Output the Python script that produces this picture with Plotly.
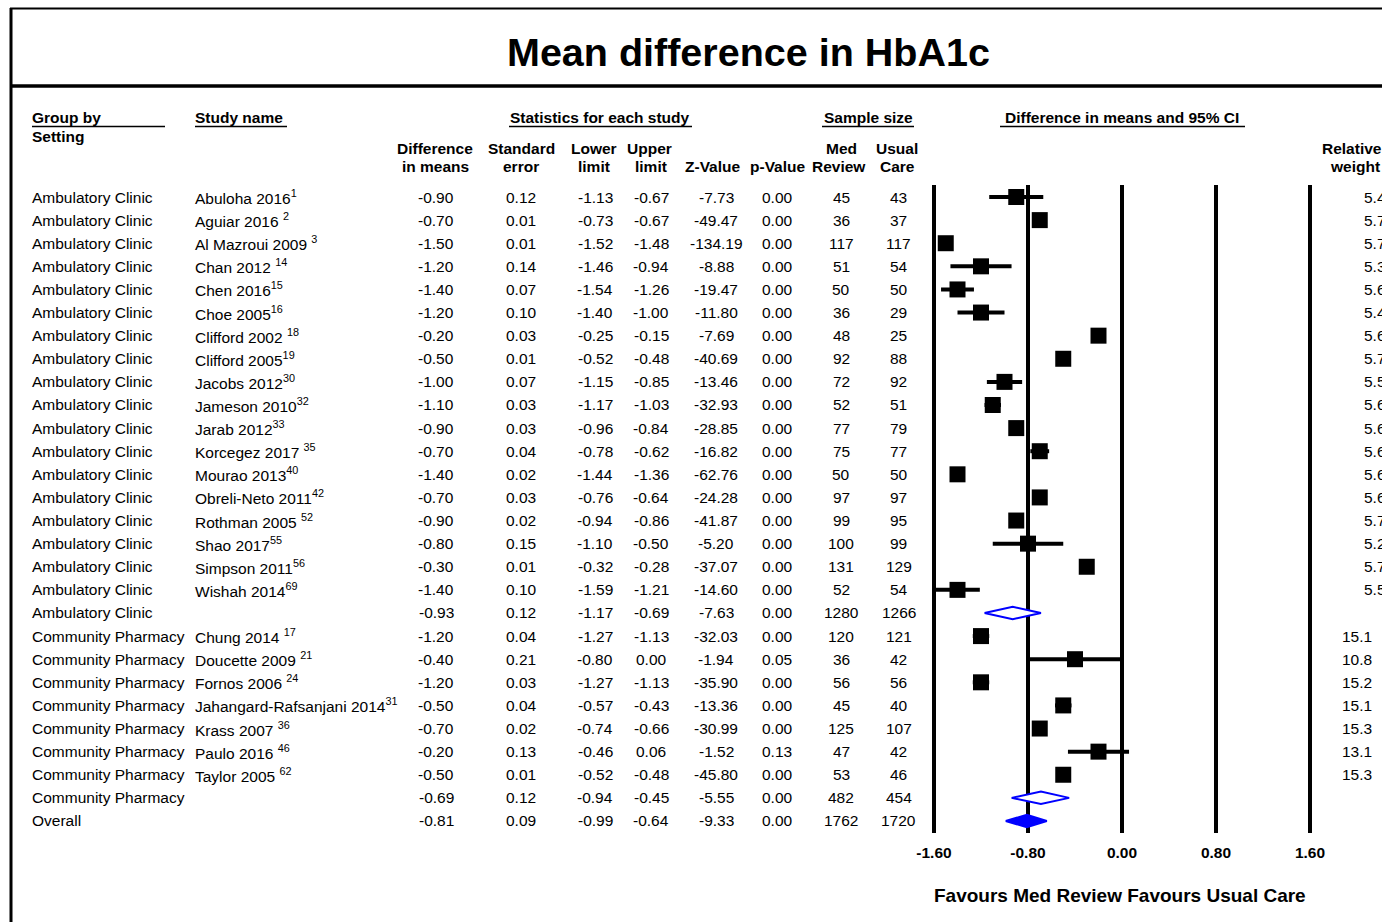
import plotly.graph_objects as go

W, H = 1382, 922
FONT = "Liberation Sans, Arial, sans-serif"
FS = 15.5

# ---------------- data ----------------
groups = ["Ambulatory Clinic"] * 19 + ["Community Pharmacy"] * 8 + ["Overall"]
studies = ["Abuloha 2016", "Aguiar 2016 ", "Al Mazroui 2009 ", "Chan 2012 ", "Chen 2016",
           "Choe 2005", "Clifford 2002 ", "Clifford 2005", "Jacobs 2012", "Jameson 2010",
           "Jarab 2012", "Korcegez 2017 ", "Mourao 2013", "Obreli-Neto 2011", "Rothman 2005 ",
           "Shao 2017", "Simpson 2011", "Wishah 2014", "",
           "Chung 2014 ", "Doucette 2009 ", "Fornos 2006 ", "Jahangard-Rafsanjani 2014",
           "Krass 2007 ", "Paulo 2016 ", "Taylor 2005 ", "", ""]
refs = ["1", "2", "3", "14", "15", "16", "18", "19", "30", "32", "33", "35", "40", "42", "52",
        "55", "56", "69", "", "17", "21", "24", "31", "36", "46", "62", "", ""]
row_type = ["study"] * 18 + ["subtotal"] + ["study"] * 7 + ["subtotal", "overall"]

diff = [-0.90, -0.70, -1.50, -1.20, -1.40, -1.20, -0.20, -0.50, -1.00, -1.10, -0.90, -0.70,
        -1.40, -0.70, -0.90, -0.80, -0.30, -1.40, -0.93,
        -1.20, -0.40, -1.20, -0.50, -0.70, -0.20, -0.50, -0.69, -0.81]
se = [0.12, 0.01, 0.01, 0.14, 0.07, 0.10, 0.03, 0.01, 0.07, 0.03, 0.03, 0.04, 0.02, 0.03,
      0.02, 0.15, 0.01, 0.10, 0.12,
      0.04, 0.21, 0.03, 0.04, 0.02, 0.13, 0.01, 0.12, 0.09]
lower = [-1.13, -0.73, -1.52, -1.46, -1.54, -1.40, -0.25, -0.52, -1.15, -1.17, -0.96, -0.78,
         -1.44, -0.76, -0.94, -1.10, -0.32, -1.59, -1.17,
         -1.27, -0.80, -1.27, -0.57, -0.74, -0.46, -0.52, -0.94, -0.99]
upper = [-0.67, -0.67, -1.48, -0.94, -1.26, -1.00, -0.15, -0.48, -0.85, -1.03, -0.84, -0.62,
         -1.36, -0.64, -0.86, -0.50, -0.28, -1.21, -0.69,
         -1.13, 0.00, -1.13, -0.43, -0.66, 0.06, -0.48, -0.45, -0.64]
zval = [-7.73, -49.47, -134.19, -8.88, -19.47, -11.80, -7.69, -40.69, -13.46, -32.93, -28.85,
        -16.82, -62.76, -24.28, -41.87, -5.20, -37.07, -14.60, -7.63,
        -32.03, -1.94, -35.90, -13.36, -30.99, -1.52, -45.80, -5.55, -9.33]
pval = [0.00] * 20 + [0.05, 0.00, 0.00, 0.00, 0.13, 0.00, 0.00, 0.00]
n_med = [45, 36, 117, 51, 50, 36, 48, 92, 72, 52, 77, 75, 50, 97, 99, 100, 131, 52, 1280,
         120, 36, 56, 45, 125, 47, 53, 482, 1762]
n_usual = [43, 37, 117, 54, 50, 29, 25, 88, 92, 51, 79, 77, 50, 97, 95, 99, 129, 54, 1266,
           121, 42, 56, 40, 107, 42, 46, 454, 1720]
weight = ["5.4", "5.7", "5.7", "5.3", "5.6", "5.4", "5.6", "5.7", "5.5", "5.6", "5.6", "5.6",
          "5.6", "5.6", "5.7", "5.2", "5.7", "5.5", "",
          "15.1", "10.8", "15.2", "15.1", "15.3", "13.1", "15.3", "", ""]
tick_vals = [-1.60, -0.80, 0.00, 0.80, 1.60]
tick_text = ["-1.60", "-0.80", "0.00", "0.80", "1.60"]

# ---------------- geometry helpers (pixel layout) ----------------
ROW0, ROWH = 197.0, 23.11
X0PIX, XSCALE = 1122.0, 117.5


def px(x):
    return x / W


def py(y):
    return 1 - y / H


yr = [(H - ROW0) / ROWH, -ROW0 / ROWH]
xr = [(0 - X0PIX) / XSCALE, (W - X0PIX) / XSCALE]

fig = go.Figure()

# study squares with CI
idx = [i for i, t in enumerate(row_type) if t == "study"]
fig.add_trace(go.Scatter(
    x=[diff[i] for i in idx], y=idx, mode="markers",
    marker=dict(symbol="square", size=16, color="black", line=dict(width=0)),
    error_x=dict(type="data", symmetric=False,
                 array=[upper[i] - diff[i] for i in idx],
                 arrayminus=[diff[i] - lower[i] for i in idx],
                 thickness=4, width=0, color="black"),
    hoverinfo="skip", showlegend=False))

# diamonds
hh = 0.27
for i, t in enumerate(row_type):
    if t == "study":
        continue
    xs = [lower[i], diff[i], upper[i], diff[i], lower[i]]
    ys = [i, i - hh, i, i + hh, i]
    fig.add_trace(go.Scatter(
        x=xs, y=ys, mode="lines", fill="toself",
        fillcolor="#0000FF" if t == "overall" else "white",
        line=dict(color="#0000FF", width=2),
        hoverinfo="skip", showlegend=False))

shapes = []
# vertical reference lines
for v in tick_vals:
    shapes.append(dict(type="line", xref="x", yref="y", x0=v, x1=v, y0=-0.52, y1=27.52,
                       line=dict(color="black", width=4), layer="below"))
# frame
shapes.append(dict(type="line", xref="paper", yref="paper", x0=px(10), x1=1, y0=py(8.5), y1=py(8.5),
                   line=dict(color="black", width=2)))
shapes.append(dict(type="line", xref="paper", yref="paper", x0=px(11), x1=px(11), y0=py(8), y1=0,
                   line=dict(color="black", width=3)))
# thick line under title
shapes.append(dict(type="line", xref="paper", yref="paper", x0=px(11), x1=1, y0=py(86), y1=py(86),
                   line=dict(color="black", width=3.5)))
# header underlines
for a, b in [(32, 165), (195, 287), (509, 692), (822, 914), (1000, 1245)]:
    shapes.append(dict(type="line", xref="paper", yref="paper", x0=px(a), x1=px(b),
                       y0=py(126.5), y1=py(126.5), line=dict(color="black", width=1.3)))

ann = []


def txt(x, y, s, size=FS, bold=False, anchor="center", yref="paper"):
    ann.append(dict(x=px(x), y=py(y) if yref == "paper" else y, xref="paper", yref=yref,
                    text=("<b>%s</b>" % s) if bold else s, showarrow=False, xanchor=anchor,
                    yanchor="middle", borderpad=0, borderwidth=0,
                    font=dict(family=FONT, size=size, color="black")))


# title
txt(749, 52, "Mean difference in HbA1c", size=39.5, bold=True)

# headers
txt(32, 118, "Group by", bold=True, anchor="left")
txt(32, 136, "Setting", bold=True, anchor="left")
txt(195, 118, "Study name", bold=True, anchor="left")
txt(600, 118, "Statistics for each study", bold=True)
txt(868, 118, "Sample size", bold=True)
txt(1122, 118, "Difference in means and 95% CI", bold=True)
col_x = [436, 521, 595, 651, 716, 777, 841, 899]
head1 = ["Difference", "Standard", "Lower", "Upper", "", "", "Med", "Usual"]
head2 = ["in means", "error", "limit", "limit", "Z-Value", "p-Value", "Review", "Care"]
hx1 = [435, 521, 594, 649, 716, 778, 841, 897]
hx2 = [435, 521, 594, 651, 713, 778, 839, 897]
for a, b, x1, x2 in zip(head1, head2, hx1, hx2):
    if a:
        txt(x1, 148, a, bold=True)
    txt(x2, 166, b, bold=True)
txt(1382, 148, "Relative", bold=True, anchor="right")
txt(1380, 166, "weight", bold=True, anchor="right")

# table rows
for i in range(len(groups)):
    txt(32, i, groups[i], anchor="left", yref="y")
    if studies[i]:
        s = studies[i] + ("<sup>%s</sup>" % refs[i] if refs[i] else "")
        txt(195, i, s, anchor="left", yref="y")
    vals = ["%.2f" % diff[i], "%.2f" % se[i], "%.2f" % lower[i], "%.2f" % upper[i],
            "%.2f" % zval[i], "%.2f" % pval[i], str(n_med[i]), str(n_usual[i])]
    for x, v in zip(col_x, vals):
        txt(x, i, v, yref="y")
    if weight[i]:
        wx = 1364 if len(weight[i]) == 3 else 1342
        txt(wx, i, weight[i], anchor="left", yref="y")

# favours label
txt(1120, 895, "Favours Med Review Favours Usual Care", size=19, bold=True)

fig.update_layout(
    width=W, height=H, margin=dict(l=0, r=0, t=0, b=0),
    paper_bgcolor="white", plot_bgcolor="white",
    xaxis=dict(range=xr, domain=[0, 1], showgrid=False, zeroline=False, showline=False,
               tickvals=tick_vals, ticktext=["<b>%s</b>" % t for t in tick_text],
               ticks="", tickfont=dict(family=FONT, size=FS, color="black"),
               anchor="free", position=py(841), fixedrange=True),
    yaxis=dict(range=yr, domain=[0, 1], visible=False, fixedrange=True),
    shapes=shapes, annotations=ann, showlegend=False,
)

fig.write_html("out.html", config={"displayModeBar": False},
               post_script="document.body.style.margin='0';document.body.style.overflow='hidden';")
